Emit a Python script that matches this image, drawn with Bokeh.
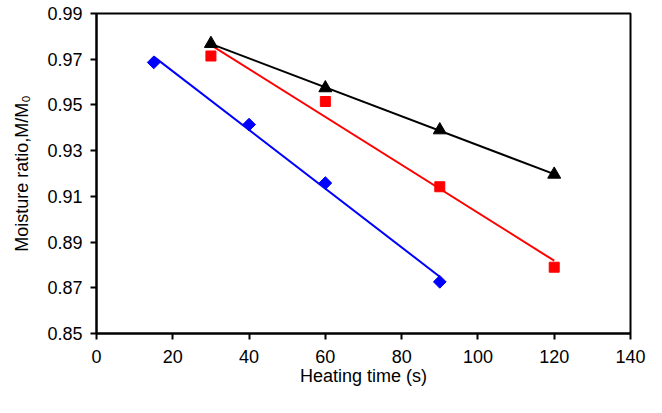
import numpy as np
from bokeh.plotting import figure
from bokeh.models import Range1d, FixedTicker, NumeralTickFormatter
from bokeh.embed import file_html
from bokeh.resources import INLINE

# data
blue_x = [15, 40, 60, 90]
blue_y = [0.9686, 0.9414, 0.9158, 0.8726]
red_x = [30, 60, 90, 120]
red_y = [0.9714, 0.9515, 0.9142, 0.8790]
black_x = [30, 60, 90, 120]
black_y = [0.9768, 0.9574, 0.9390, 0.9196]
x_ticks = [0, 20, 40, 60, 80, 100, 120, 140]
y_ticks = [0.85, 0.87, 0.89, 0.91, 0.93, 0.95, 0.97, 0.99]

FONT = "Liberation Sans"

p = figure(width=656, height=400, output_backend="svg", toolbar_location=None,
           x_range=Range1d(0, 140), y_range=Range1d(0.85, 0.99),
           min_border_left=96, min_border_right=26, min_border_top=13, min_border_bottom=67)
p.grid.visible = False
p.outline_line_color = "black"
p.outline_line_width = 2
p.background_fill_color = "white"
p.border_fill_color = "white"

for ax in (p.xaxis[0], p.yaxis[0]):
    ax.axis_line_width = 2
    ax.axis_line_color = "black"
    ax.major_tick_line_width = 2
    ax.major_tick_line_color = "black"
    ax.major_tick_in = 0
    ax.major_tick_out = 6
    ax.minor_tick_line_color = None
    ax.major_label_text_font = FONT
    ax.major_label_text_font_size = "18px"
    ax.major_label_text_color = "black"
    ax.axis_label_text_font = FONT
    ax.axis_label_text_font_size = "18px"
    ax.axis_label_text_font_style = "normal"
    ax.axis_label_text_color = "black"

p.xaxis.ticker = FixedTicker(ticks=x_ticks)
p.yaxis.ticker = FixedTicker(ticks=y_ticks)
p.yaxis.formatter = NumeralTickFormatter(format="0.00")
p.xaxis.major_label_standoff = 10
p.yaxis.major_label_standoff = 8
p.xaxis.axis_label = "Heating time (s)"
p.yaxis.axis_label = "Moisture ratio,M/M\u2080"
p.xaxis.axis_label_standoff = 0
p.yaxis.axis_label_standoff = 12

def trend(xs, ys):
    m, b = np.polyfit(xs, ys, 1)
    xe = [min(xs), max(xs)]
    return xe, [m * v + b for v in xe]

for xs, ys, col in ((blue_x, blue_y, "#0000ff"), (red_x, red_y, "#ff0000"), (black_x, black_y, "black")):
    tx, ty = trend(xs, ys)
    p.line(tx, ty, line_color=col, line_width=2)

p.scatter(blue_x, blue_y, marker="square", size=9, angle=np.pi / 4,
          fill_color="#0000ff", line_color="#0000ff")
p.scatter(red_x, red_y, marker="square", size=10, fill_color="#ff0000", line_color="#ff0000")
p.scatter(black_x, black_y, marker="triangle", size=13, fill_color="black", line_color="black")

open("out.html", "w").write(file_html(p, INLINE))
